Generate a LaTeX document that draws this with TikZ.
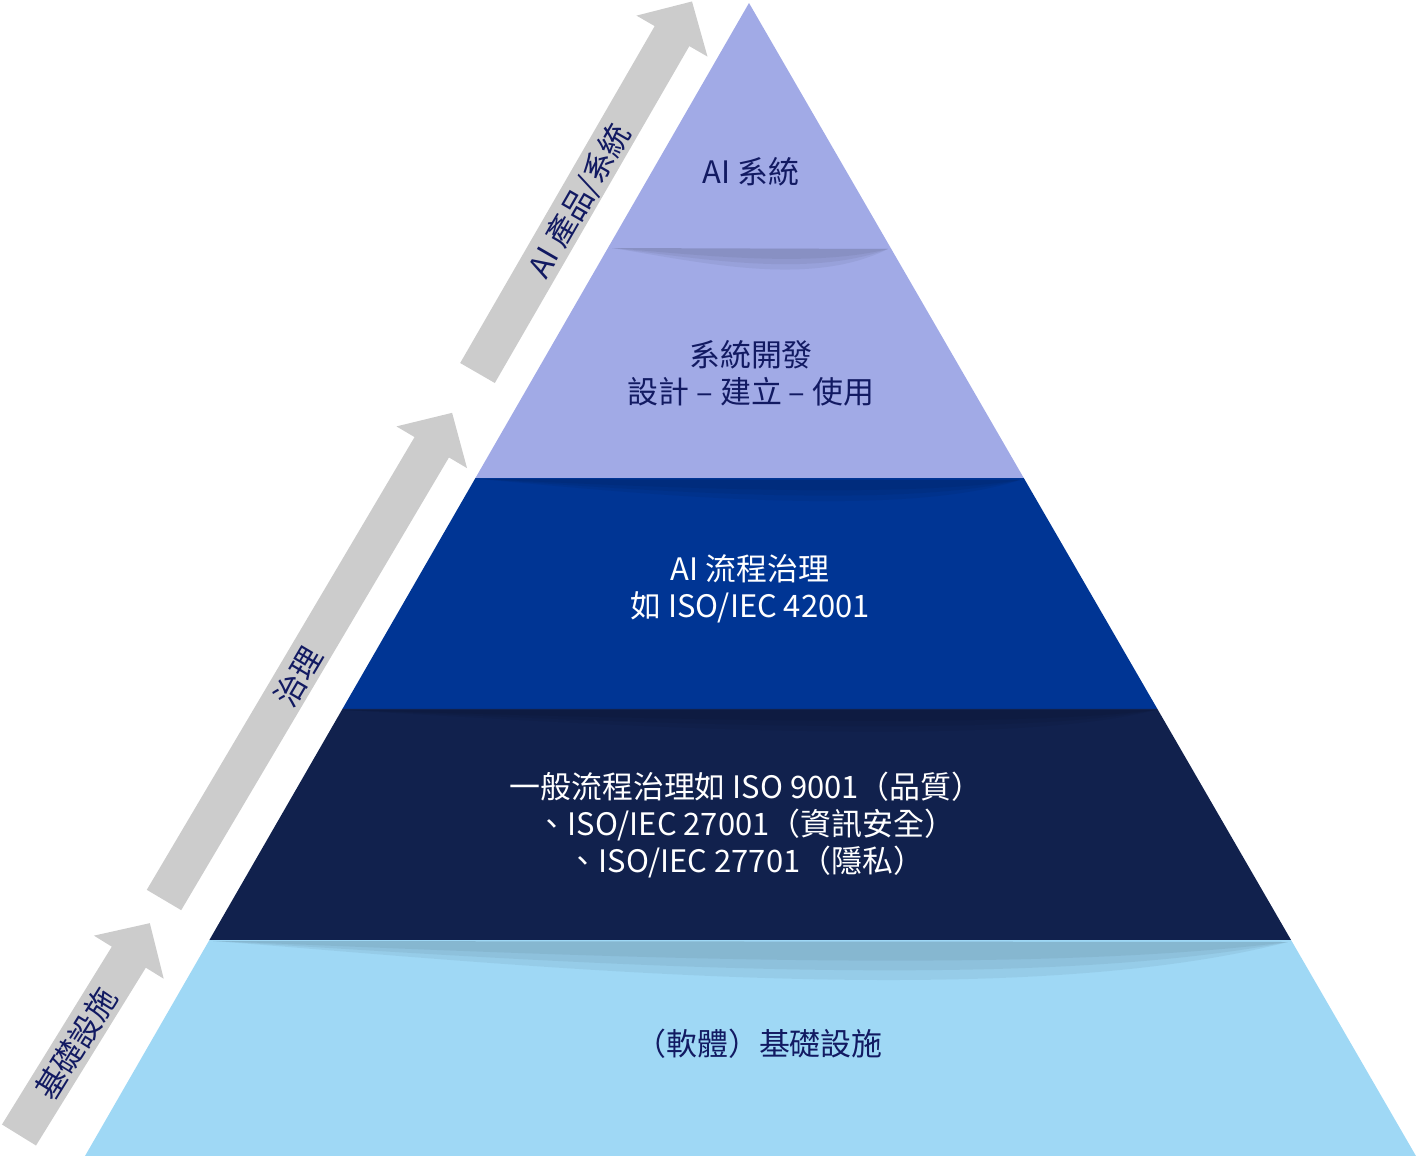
\documentclass[tikz,border=0pt]{standalone}
\usepackage{fontspec}
\setmainfont{Noto Sans CJK TC}
\usetikzlibrary{calc}

\definecolor{lavender}{RGB}{161,170,230}
\definecolor{royal}{RGB}{0,53,148}
\definecolor{midnight}{RGB}{17,33,77}
\definecolor{skyblue}{RGB}{159,216,245}
\definecolor{arrowgray}{RGB}{204,204,204}
\definecolor{inkblue}{RGB}{18,26,98}

% grey block arrow: tail, angle, length
\newcommand{\grayarrow}[3]{%
  \fill[arrowgray, shift={#1}, rotate=#2]
    (0,-20) -- ({#3-40},-20) -- ({#3-40},-41) -- (#3,0)
    -- ({#3-40},41) -- ({#3-40},20) -- (0,20) -- cycle;}

\begin{document}
\begin{tikzpicture}[x=0.025cm, y=-0.025cm,
  font=\fontsize{22}{26.5}\selectfont,
  lbl/.style={align=center, inner sep=0pt},
  dark/.style={lbl, text=inkblue},
  light/.style={lbl, text=white},
  dip/.style={fill=black, fill opacity=0.05}]
\useasboundingbox (0,0) rectangle (1416,1156);

% pyramid corners and layer edges
\coordinate (apex) at (749,3);
\coordinate (bl) at (85,1156);
\coordinate (br) at (1416,1156);
\coordinate (l1) at ($(apex)!0.2116!(bl)$);
\coordinate (r1) at ($(apex)!0.2116!(br)$);
\coordinate (l2) at ($(apex)!0.4120!(bl)$);
\coordinate (r2) at ($(apex)!0.4120!(br)$);
\coordinate (l3) at ($(apex)!0.6123!(bl)$);
\coordinate (r3) at ($(apex)!0.6123!(br)$);
\coordinate (l4) at ($(apex)!0.8127!(bl)$);
\coordinate (r4) at ($(apex)!0.8127!(br)$);

% layers
\fill[lavender] (apex) -- (l1) -- (r1) -- cycle;
\fill[lavender] (l1) -- (l2) -- (r2) -- (r1) -- cycle;
\fill[royal] (l2) -- (l3) -- (r3) -- (r2) -- cycle;
\fill[midnight] (l3) -- (l4) -- (r4) -- (r3) -- cycle;
\fill[skyblue] (l4) -- (bl) -- (br) -- (r4) -- cycle;

% soft shadows under the edges
\foreach \d in {1,0.75,0.5} {
  \fill[dip] (612,248) .. controls (700,{248+14*\d}) and (810,{248+40*\d}) .. (888,249) -- cycle;
  \fill[dip] (480,479) .. controls (650,{479+16*\d}) and (900,{479+40*\d}) .. (1020,480) -- cycle;
  \fill[dip] (345,710) .. controls (600,{710+15*\d}) and (1000,{710+40*\d}) .. (1155,710) -- cycle;
  \fill[dip] (213,941) .. controls (500,{941+22*\d}) and (1000,{941+75*\d}) .. (1288,942) -- cycle;
}

% side arrows
\grayarrow{(19,1135)}{58.3}{249}
\grayarrow{(164,900)}{59.4}{566}
\grayarrow{(477.5,373)}{60}{429}

\node[dark, rotate=58.3] (lblinfra) at (76,1044) {基礎設施};
\node[dark, rotate=59.4] (lblgov) at (298,677) {治理};
\node[dark, rotate=60] (lblprod) at (580,201) {AI 產品/系統};

% layer texts
\node[dark] (aisys) at (751,172) {AI 系統};
\node[dark] (sysdev) at (751,373) {系統開發\\設計 – 建立 – 使用};
\node[light] (aigov) at (750,589) {AI 流程治理\\如 ISO/IEC 42001};
\node[light] (gengov) at (746,825) {一般流程治理如 ISO 9001（品質）\\、ISO/IEC 27001（資訊安全）\\、ISO/IEC 27701（隱私）};
\node[dark] (infra) at (759,1044) {（軟體）基礎設施};
\end{tikzpicture}
\end{document}
